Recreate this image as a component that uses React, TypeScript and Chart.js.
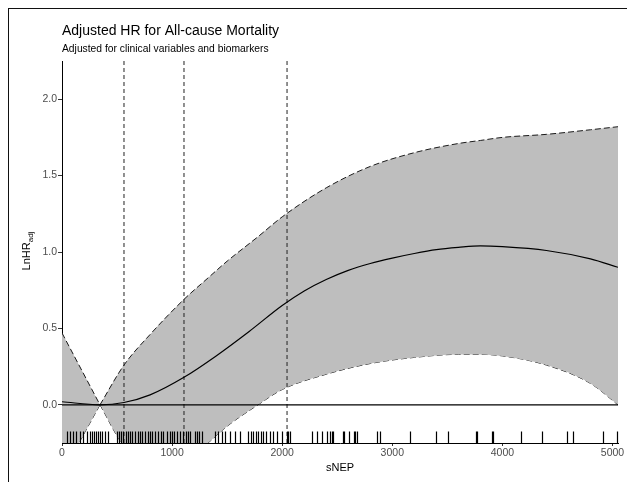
import React, { useEffect, useRef } from "react";
import { Chart, registerables } from "chart.js";
Chart.register(...registerables);

const titleText = "Adjusted HR for All-cause Mortality";
const subtitleText = "Adjusted for clinical variables and biomarkers";
const xAxisTitle = "sNEP";
const yAxisTitleMain = "LnHR";
const yAxisTitleSub = "adj";

const xMin = 0;
const xMax = 5050;
const yMin = -0.25;
const yMax = 2.25;
const xTicks = [0, 1000, 2000, 3000, 4000, 5000];
const yTicks = [0, 0.5, 1, 1.5, 2];

// confidence band, left of the reference point (straight V)
const bandLeftX = [0, 345];
const bandLeftUpper = [0.47, 0];
const bandLeftLower = [-0.45, 0];

// confidence band, right of the reference point
const bandX = [345, 563, 800, 1108, 1326, 1500, 1780, 2000, 2400, 2800, 3200, 3600, 3800, 4000, 4400, 4800, 5050];
const bandUpper = [0, 0.26, 0.46, 0.69, 0.83, 0.94, 1.1, 1.23, 1.42, 1.56, 1.65, 1.71, 1.73, 1.75, 1.77, 1.8, 1.82];
const bandLower = [0, -0.27, -0.38, -0.38, -0.25, -0.14, 0.0, 0.1, 0.2, 0.27, 0.31, 0.33, 0.33, 0.32, 0.26, 0.14, 0.0];

// estimated log hazard ratio
const curveX = [0, 345, 563, 800, 1108, 1400, 1700, 2000, 2200, 2400, 2600, 2800, 3000, 3200, 3400, 3600, 3800, 4000, 4400, 4800, 5050];
const curveY = [0.02, 0.0, 0.015, 0.065, 0.18, 0.32, 0.48, 0.65, 0.745, 0.82, 0.88, 0.925, 0.96, 0.99, 1.015, 1.03, 1.04, 1.035, 1.01, 0.955, 0.9];

const refLineY = 0;
const quartiles = [563, 1108, 2044];

const rugValues = [
  42, 73, 103, 124, 163, 194, 224, 254, 270, 294, 306, 324, 345, 360, 390, 421,
  497, 518, 536, 557, 578, 597, 618, 639, 663, 687, 708, 730, 754, 778, 799, 821,
  845, 875, 899, 920, 951, 981, 996, 1020, 1042, 1072, 1096, 1124, 1142, 1163,
  1208, 1229, 1247, 1269, 1390, 1420, 1451, 1481, 1526, 1572, 1617, 1692, 1714,
  1738, 1762, 1783, 1805, 1829, 1853, 1889, 1919, 1956, 1995, 2040, 2055, 2071,
  2268, 2314, 2359, 2404, 2434, 2450, 2458, 2549, 2561, 2609, 2654, 2663, 2675,
  2857, 2887, 3160, 3397, 3509, 3760, 3772, 3908, 3917, 4166, 4357, 4584, 4644,
  4911, 5038,
];

const FONT = '"Liberation Sans", Arial, Helvetica, sans-serif';

const pts = (xs: number[], ys: number[]) => xs.map((x, i) => ({ x, y: ys[i] }));

const textPlugin = {
  id: "textPlugin",
  afterDatasetsDraw(chart: any) {
    const { ctx, chartArea, scales } = chart;
    // rug
    ctx.save();
    ctx.strokeStyle = "#000";
    ctx.lineWidth = 1.2;
    ctx.beginPath();
    for (const v of rugValues) {
      const px = Math.round(scales.x.getPixelForValue(v)) + 0.5;
      ctx.moveTo(px, chartArea.bottom);
      ctx.lineTo(px, chartArea.bottom - 11.5);
    }
    ctx.stroke();
    ctx.restore();
  },
  afterDraw(chart: any) {
    const { ctx, chartArea } = chart;
    ctx.save();
    ctx.fillStyle = "#000";
    ctx.textBaseline = "alphabetic";
    ctx.textAlign = "left";
    ctx.font = `14px ${FONT}`;
    ctx.fillText(titleText, chartArea.left, 35);
    ctx.font = `10.3px ${FONT}`;
    ctx.fillText(subtitleText, chartArea.left, 52);
    // x title
    ctx.font = `11px ${FONT}`;
    ctx.textAlign = "center";
    ctx.textBaseline = "middle";
    ctx.fillText(xAxisTitle, (chartArea.left + chartArea.right) / 2, 468);
    // y title
    ctx.translate(26, 251);
    ctx.rotate(-Math.PI / 2);
    ctx.font = `11px ${FONT}`;
    const w1 = ctx.measureText(yAxisTitleMain).width;
    ctx.font = `8px ${FONT}`;
    const w2 = ctx.measureText(yAxisTitleSub).width;
    const start = -(w1 + w2) / 2;
    ctx.textAlign = "left";
    ctx.textBaseline = "alphabetic";
    ctx.font = `11px ${FONT}`;
    ctx.fillText(yAxisTitleMain, start, 4);
    ctx.font = `8px ${FONT}`;
    ctx.fillText(yAxisTitleSub, start + w1, 7);
    ctx.restore();
  },
};

export default function App() {
  const ref = useRef<HTMLCanvasElement>(null);
  useEffect(() => {
    const bandStyle = {
      borderColor: "#1a1a1a",
      borderWidth: 1,
      borderDash: [6, 3],
      pointRadius: 0,
      backgroundColor: "#bebebe",
      order: 10,
    };
    const datasets: any[] = [
      { ...bandStyle, data: pts(bandLeftX, bandLeftUpper), fill: "+1", tension: 0 },
      { ...bandStyle, data: pts(bandLeftX, bandLeftLower), fill: false, tension: 0 },
      { ...bandStyle, data: pts(bandX, bandUpper), fill: "+1", cubicInterpolationMode: "monotone" },
      { ...bandStyle, data: pts(bandX, bandLower), fill: false, cubicInterpolationMode: "monotone" },
      {
        ...bandStyle,
        data: [
          { x: bandLeftX[0], y: bandLeftLower[0] },
          { x: bandLeftX[0], y: bandLeftUpper[0] },
        ],
        fill: false,
      },
      {
        data: pts(curveX, curveY),
        borderColor: "#000",
        borderWidth: 1.2,
        pointRadius: 0,
        fill: false,
        cubicInterpolationMode: "monotone",
        order: 1,
      },
      {
        data: [
          { x: xMin, y: refLineY },
          { x: xMax, y: refLineY },
        ],
        borderColor: "#000",
        borderWidth: 1.3,
        pointRadius: 0,
        fill: false,
        order: 2,
      },
      ...quartiles.map((q) => ({
        data: [
          { x: q, y: yMin },
          { x: q, y: yMax },
        ],
        borderColor: "#222",
        borderWidth: 1,
        borderDash: [4, 3],
        pointRadius: 0,
        fill: false,
        order: 3,
      })),
    ];
    const chart = new Chart(ref.current as HTMLCanvasElement, {
      type: "line",
      data: { datasets },
      options: {
        responsive: false,
        animation: false,
        devicePixelRatio: 1,
        layout: { padding: { top: 61, right: 9, left: 0, bottom: 0 } },
        plugins: {
          legend: { display: false },
          tooltip: { enabled: false },
          title: { display: false },
        },
        scales: {
          x: {
            type: "linear",
            min: xMin,
            max: xMax,
            afterBuildTicks: (s: any) => {
              s.ticks = xTicks.map((v) => ({ value: v }));
            },
            afterFit: (s: any) => {
              s.height = 39;
            },
            ticks: {
              callback: (v: any) => String(v),
              color: "#4d4d4d",
              font: { family: FONT, size: 10.5 },
              padding: 1,
              maxRotation: 0,
              autoSkip: false,
            },
            grid: { drawOnChartArea: false, drawTicks: true, tickLength: 3, color: "#333" },
            border: { display: true, color: "#000", width: 1 },
          },
          y: {
            type: "linear",
            min: yMin,
            max: yMax,
            afterBuildTicks: (s: any) => {
              s.ticks = yTicks.map((v) => ({ value: v }));
            },
            afterFit: (s: any) => {
              s.width = 62;
            },
            ticks: {
              callback: (v: any) => Number(v).toFixed(1),
              color: "#4d4d4d",
              font: { family: FONT, size: 10.5 },
              padding: 1,
              autoSkip: false,
            },
            grid: { drawOnChartArea: false, drawTicks: true, tickLength: 4, color: "#333" },
            border: { display: true, color: "#000", width: 1 },
          },
        },
      },
      plugins: [textPlugin],
    } as any);
    return () => chart.destroy();
  }, []);
  return (
    <div
      style={{
        position: "fixed",
        left: 0,
        top: 0,
        width: 627,
        height: 482,
        overflow: "hidden",
        background: "#fff",
      }}
    >
      <canvas
        ref={ref}
        width={627}
        height={482}
        style={{ position: "absolute", left: 0, top: 0, width: 627, height: 482 }}
      />
      <div
        style={{
          position: "absolute",
          left: 8,
          top: 8,
          width: 700,
          height: 600,
          borderLeft: "1px solid #111",
          borderTop: "1px solid #111",
          pointerEvents: "none",
        }}
      />
    </div>
  );
}
